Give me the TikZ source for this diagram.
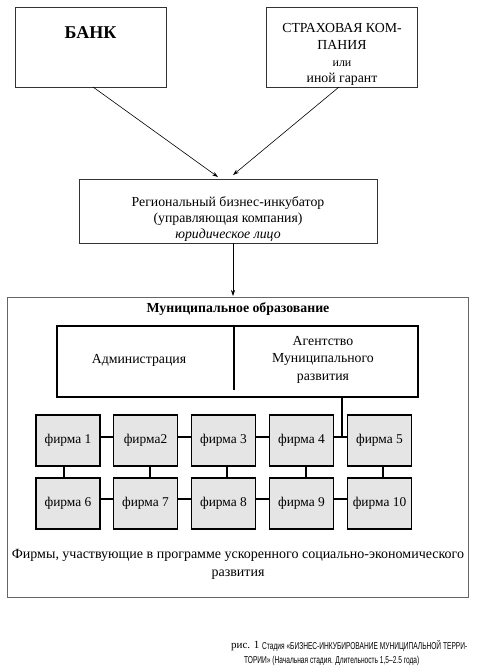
\documentclass[tikz,border=0pt]{standalone}
\usepackage{fontspec}
\setmainfont{Liberation Serif}
\newfontfamily\capfont[FakeStretch=0.66]{Liberation Sans}
\usetikzlibrary{arrows.meta}
\begin{document}
\begin{tikzpicture}[x=1pt,y=-1pt,
  topbox/.style={draw=black!80,line width=0.7pt,minimum width=151pt,minimum height=80pt,inner sep=0pt},
  regbox/.style={draw=black!80,line width=0.7pt,minimum width=298pt,minimum height=64pt,inner sep=0pt},
  outerbox/.style={draw=black!60,line width=0.6pt,minimum width=461pt,minimum height=300pt,inner sep=0pt},
  innerbox/.style={draw=black,line width=1.5pt,minimum width=361pt,minimum height=71pt,inner sep=0pt},
  firm/.style={draw=black,line width=1.4pt,fill=black!10,minimum width=64pt,minimum height=51pt,inner sep=0pt,font=\fontsize{13.4}{15}\selectfont},
  txt/.style={inner sep=0pt,align=center,font=\fontsize{13.8}{16.8}\selectfont},
  conn/.style={line width=1.3pt},
  arr/.style={line width=0.6pt,-{Stealth[length=6pt,width=4pt]}}
]
\useasboundingbox (0,0) rectangle (478,667);
% top boxes
\node[topbox] (bank) at (90.5,47) {};
\node[inner sep=0pt,font=\bfseries\fontsize{18}{20}\selectfont] (banktxt) at (90.5,33) {БАНК};
\node[topbox] (ins) at (342,47) {};
\node[txt] (instxt) at (342,54.5) {СТРАХОВАЯ КОМ-\\ПАНИЯ\\{\fontsize{12}{16.8}\selectfont или}\\иной гарант};
% regional incubator
\node[regbox] (reg) at (228,211) {};
\node[txt,font=\fontsize{13.8}{16}\selectfont] (regtxt) at (228,219) {Региональный бизнес-инкубатор\\(управляющая компания)\\\textit{юридическое лицо}};
\coordinate (bk) at (93,87);
\coordinate (is) at (339,87);
\coordinate (t1) at (218,177);
\coordinate (t2) at (233,175);
\draw[arr] (bk) -- (t1);
\draw[arr] (is) -- (t2);
% municipal formation
\node[outerbox] (mun) at (237.5,447) {};
\coordinate (r1) at (233,243);
\coordinate (m1) at (233,296);
\draw[arr] (r1) -- (m1);
\node[inner sep=0pt,font=\bfseries\fontsize{13.8}{16}\selectfont] (muntxt) at (238,309) {Муниципальное образование};
\node[innerbox] (adm) at (237.5,361.5) {};
\coordinate (d1) at (234,326);
\coordinate (d2) at (234,390);
\draw[line width=1.4pt] (d1) -- (d2);
\node[txt] (admtxt) at (139,360) {Администрация};
\node[txt,font=\fontsize{13.8}{17.5}\selectfont] (agtxt) at (323,359.5) {Агентство\\Муниципального\\развития};
% firms
\node[firm] (f1) at (68,440.5) {фирма 1};
\node[firm] (f2) at (145.5,440.5) {фирма2};
\node[firm] (f3) at (223.5,440.5) {фирма 3};
\node[firm] (f4) at (301.5,440.5) {фирма 4};
\node[firm] (f5) at (379.5,440.5) {фирма 5};
\node[firm] (f6) at (68,503.5) {фирма 6};
\node[firm] (f7) at (145.5,503.5) {фирма 7};
\node[firm] (f8) at (223.5,503.5) {фирма 8};
\node[firm] (f9) at (301.5,503.5) {фирма 9};
\node[firm] (f10) at (379.5,503.5) {фирма 10};
\draw[conn] ([yshift=3.5pt]f1.east) -- ([yshift=3.5pt]f2.west);
\draw[conn] ([yshift=3.5pt]f2.east) -- ([yshift=3.5pt]f3.west);
\draw[conn] ([yshift=3.5pt]f3.east) -- ([yshift=3.5pt]f4.west);
\draw[conn] ([yshift=3.5pt]f4.east) -- ([yshift=3.5pt]f5.west);
\draw[conn] ([yshift=4.5pt]f6.east) -- ([yshift=4.5pt]f7.west);
\draw[conn] ([yshift=4.5pt]f7.east) -- ([yshift=4.5pt]f8.west);
\draw[conn] ([yshift=4.5pt]f8.east) -- ([yshift=4.5pt]f9.west);
\draw[conn] ([yshift=4.5pt]f9.east) -- ([yshift=4.5pt]f10.west);
\draw[conn] ([xshift=-4pt]f1.south) -- ([xshift=-4pt]f6.north);
\draw[conn] ([xshift=4.5pt]f2.south) -- ([xshift=4.5pt]f7.north);
\draw[conn] ([xshift=3.5pt]f3.south) -- ([xshift=3.5pt]f8.north);
\draw[conn] ([xshift=4.5pt]f4.south) -- ([xshift=4.5pt]f9.north);
\draw[conn] ([xshift=3.5pt]f5.south) -- ([xshift=3.5pt]f10.north);
\coordinate (ag) at (342,397);
\coordinate (jn) at (342,437);
\draw[conn] (ag) -- (jn);
% bottom text
\node[txt,font=\fontsize{14}{18}\selectfont] (firmstxt) at (238,564) {Фирмы, участвующие в программе ускоренного социально-экономического\\развития};
% caption
\node[anchor=west,inner sep=0pt,font=\fontsize{11}{13}\selectfont] (fig) at (231,646) {рис. 1};
\node[anchor=west,inner sep=0pt,font=\capfont\fontsize{10}{12}\selectfont] (cap1) at (262,646) {Стадия «БИЗНЕС-ИНКУБИРОВАНИЕ МУНИЦИПАЛЬНОЙ ТЕРРИ-};
\node[anchor=west,inner sep=0pt,font=\capfont\fontsize{10}{12}\selectfont] (cap2) at (244,661) {ТОРИИ» (Начальная стадия. Длительность 1,5–2.5 года)};
\end{tikzpicture}
\end{document}
